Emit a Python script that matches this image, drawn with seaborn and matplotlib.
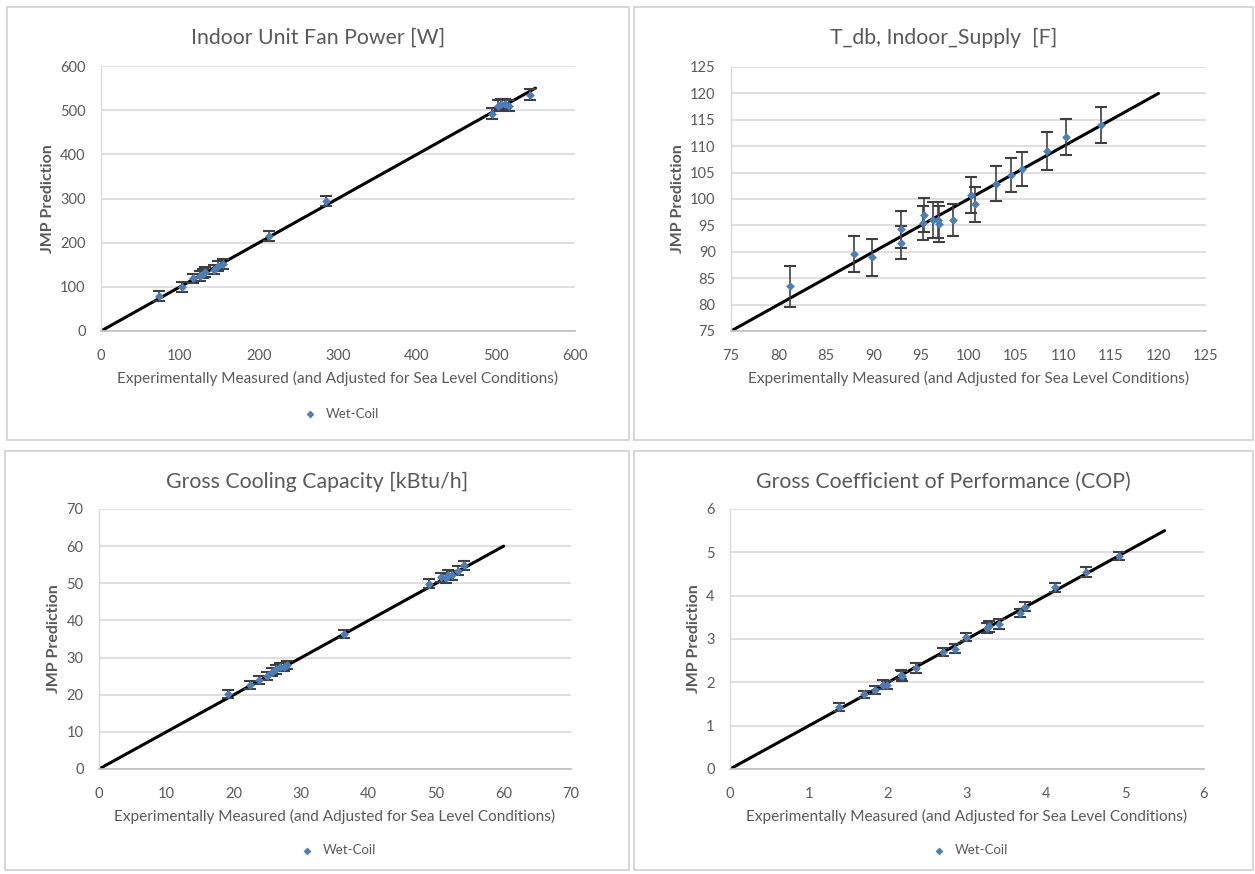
import matplotlib
matplotlib.use("Agg")
import matplotlib.pyplot as plt
from matplotlib.patches import Rectangle
import numpy as np
import pandas as pd
import seaborn as sns

# ---- data -------------------------------------------------------------
fan_meas = [73, 102, 117, 125, 129, 132, 143, 148, 154, 213, 285, 495, 502, 506, 512, 516, 543]
fan_pred = [79, 100, 119, 124, 130, 133, 139, 147, 152, 215, 294, 492, 510, 514, 514, 510, 535]
fan_err = [11, 11, 11, 11, 11, 11, 11, 11, 11, 12, 11, 12, 12, 12, 12, 12, 12]
fan_line = [0, 550]

tdb_meas = [81.2, 87.9, 89.8, 92.9, 92.9, 95.2, 95.3, 96.3, 96.8, 96.9, 98.4,
            100.3, 100.7, 102.9, 104.5, 105.6, 108.3, 110.3, 113.9]
tdb_pred = [83.5, 89.5, 89.0, 94.3, 91.7, 95.4, 96.9, 96.1, 96.1, 95.2, 96.0,
            100.7, 99.0, 102.9, 104.5, 105.7, 109.0, 111.7, 114.1]
tdb_err = [3.9, 3.4, 3.5, 3.5, 3.1, 3.2, 3.2, 3.4, 3.4, 3.4, 3.0,
           3.4, 3.3, 3.3, 3.2, 3.2, 3.6, 3.4, 3.4]
tdb_line = [75, 120]

cool_meas = [19.2, 22.4, 23.7, 24.9, 25.6, 26.2, 26.8, 27.4, 27.9, 36.4,
             48.9, 50.7, 51.4, 51.8, 52.3, 53.2, 54.2]
cool_pred = [20.2, 22.7, 24.0, 25.0, 26.1, 26.8, 27.4, 27.4, 27.9, 36.3,
             49.9, 51.6, 51.4, 52.3, 52.1, 53.4, 54.9]
cool_err = [1.1, 1.1, 1.1, 1.1, 1.1, 1.1, 1.1, 1.1, 1.1, 1.1,
            1.2, 1.2, 1.2, 1.2, 1.2, 1.2, 1.2]
cool_line = [0, 60]

cop_meas = [1.38, 1.69, 1.84, 1.94, 1.99, 2.16, 2.18, 2.35, 2.69, 2.85,
            2.99, 3.25, 3.28, 3.41, 3.67, 3.73, 4.12, 4.51, 4.93]
cop_pred = [1.43, 1.72, 1.82, 1.95, 1.94, 2.18, 2.15, 2.33, 2.70, 2.78,
            3.05, 3.25, 3.29, 3.35, 3.60, 3.75, 4.19, 4.55, 4.91]
cop_err = [0.09, 0.09, 0.09, 0.1, 0.1, 0.11, 0.11, 0.12, 0.1, 0.1,
           0.1, 0.12, 0.12, 0.12, 0.1, 0.1, 0.11, 0.12, 0.09]
cop_line = [0, 5.5]

titles = ["Indoor Unit Fan Power [W]", "T_db, Indoor_Supply  [F]",
          "Gross Cooling Capacity [kBtu/h]", "Gross Coefficient of Performance (COP)"]
x_label = "Experimentally Measured (and Adjusted for Sea Level Conditions)"
y_label = "JMP Prediction"
series_name = "Wet-Coil"

# ---- style ------------------------------------------------------------
sns.set_theme(style="white")
plt.rcParams["font.family"] = ["Lato", "DejaVu Sans"]

W, H = 1255, 874
fig = plt.figure(figsize=(W / 100, H / 100), dpi=100)
fig.patch.set_facecolor("white")

GREY_TXT = "#595959"
GRID = "#d9d9d9"
BLUE = "#4A7EBB"


def fx(px):
    return px / W


def fy(py):
    return 1 - py / H


panels = [
    dict(meas=fan_meas, pred=fan_pred, err=fan_err, line=fan_line,
         lim=(0, 600), step=100, box=(7, 7, 629, 440), ax=(101, 66, 575, 331), legend=True),
    dict(meas=tdb_meas, pred=tdb_pred, err=tdb_err, line=tdb_line,
         lim=(75, 125), step=5, box=(634, 7, 1253, 440), ax=(731, 67, 1206, 331), legend=False),
    dict(meas=cool_meas, pred=cool_pred, err=cool_err, line=cool_line,
         lim=(0, 70), step=10, box=(5, 451, 629, 870), ax=(99, 509, 571, 769), legend=True),
    dict(meas=cop_meas, pred=cop_pred, err=cop_err, line=cop_line,
         lim=(0, 6), step=1, box=(634, 451, 1253, 870), ax=(730, 509, 1204, 769), legend=True),
]

for title, p in zip(titles, panels):
    bx0, by0, bx1, by1 = p["box"]
    fig.patches.append(Rectangle((fx(bx0), fy(by1)), fx(bx1 - bx0), (by1 - by0) / H,
                                 transform=fig.transFigure, facecolor="none",
                                 edgecolor="#cfcfcf", linewidth=1.2, zorder=0))
    ax0, ay0, ax1, ay1 = p["ax"]
    ax = fig.add_axes([fx(ax0), fy(ay1), fx(ax1 - ax0), (ay1 - ay0) / H])
    ax.set_facecolor("none")

    lo, hi = p["lim"]
    ticks = np.arange(lo, hi + p["step"] / 2, p["step"])
    ax.set_xlim(lo, hi)
    ax.set_ylim(lo, hi)
    ax.set_xticks(ticks)
    ax.set_yticks(ticks)
    ax.set_xticklabels([f"{t:g}" for t in ticks])
    ax.set_yticklabels([f"{t:g}" for t in ticks])
    ax.tick_params(axis="both", length=0, labelsize=10.5, colors=GREY_TXT)
    ax.tick_params(axis="x", pad=13)
    ax.tick_params(axis="y", pad=11)
    ax.yaxis.grid(True, color=GRID, linewidth=1.2)
    ax.xaxis.grid(False)
    for s in ["top", "right"]:
        ax.spines[s].set_visible(False)
    ax.spines["left"].set_color(GRID)
    ax.spines["left"].set_linewidth(1.0)
    ax.spines["bottom"].set_color("#bfbfbf")
    ax.spines["bottom"].set_linewidth(1.2)
    ax.set_axisbelow(True)

    # 1:1 reference line
    sns.lineplot(x=p["line"], y=p["line"], ax=ax, color="black", linewidth=2.2, zorder=2)

    # error bars and points
    ax.errorbar(p["meas"], p["pred"], yerr=p["err"], fmt="none", ecolor="#3f3f3f",
                elinewidth=1.2, capsize=4, capthick=1.5, zorder=3)
    df = pd.DataFrame({"meas": p["meas"], "pred": p["pred"]})
    sns.scatterplot(data=df, x="meas", y="pred", ax=ax, marker="D", s=20,
                    color=BLUE, edgecolor=BLUE, linewidth=0, zorder=4,
                    label=series_name if p["legend"] else None)

    ax.set_xlabel(x_label, fontsize=11.1, color=GREY_TXT, labelpad=6)
    ax.set_ylabel(y_label, fontsize=11.5, color=GREY_TXT, fontweight="bold", labelpad=4)

    fig.text(fx((bx0 + bx1) / 2), fy(by0 + 31), title, ha="center", va="center",
             fontsize=15.3, color=GREY_TXT)

    if p["legend"]:
        leg = ax.legend(loc="center", bbox_to_anchor=(0.5, -0.313), frameon=False,
                        fontsize=9.5, handletextpad=0.2, borderpad=0, markerscale=0.9)
        for t in leg.get_texts():
            t.set_color(GREY_TXT)
    else:
        lg = ax.get_legend()
        if lg is not None:
            lg.remove()

fig.savefig("out.png", dpi=100, facecolor="white")
